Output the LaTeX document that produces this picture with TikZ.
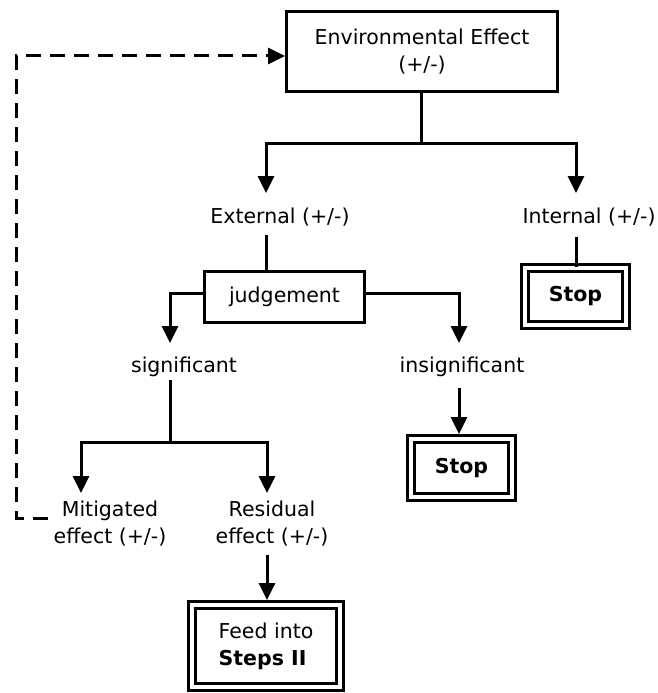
\documentclass[tikz,border=0pt]{standalone}
\usepackage{fontspec}
\setmainfont{DejaVu Sans}
\usetikzlibrary{arrows.meta}
\begin{document}
\begin{tikzpicture}[x=1pt,y=-1pt,
  every node/.style={font=\fontsize{20.5}{27}\selectfont, inner sep=0pt},
  ln/.style={line width=3pt},
  arr/.style={ln,-{Triangle[length=17pt,width=16pt]}},
  dsh/.style={line width=3pt,dash pattern=on 15pt off 9pt},
  box/.style={draw,line width=3pt,align=center},
  dbox/.style={draw,line width=3pt,double,double distance=4pt,align=center},
  lbl/.style={align=center}]
\useasboundingbox (0,0) rectangle (658,693);
% nodes
\node[box,minimum width=271pt,minimum height=80pt] (env) at (422,51.5) {Environmental Effect\\(+/-)};
\node[lbl] (ext) at (280,217) {External (+/-)};
\node[lbl] (int) at (589,217) {Internal (+/-)};
\node[box,minimum width=160pt,minimum height=51pt] (jud) at (284.5,297) {judgement};
\node[dbox,minimum width=101pt,minimum height=57pt] (stop1) at (575.5,296.5) {\textbf{Stop}};
\node[lbl] (sig) at (184,367) {significant};
\node[lbl] (insig) at (462,367) {insignificant};
\node[dbox,minimum width=101pt,minimum height=58pt] (stop2) at (461.5,468) {\textbf{Stop}};
\node[lbl] (mit) at (110,524) {Mitigated\\effect (+/-)};
\node[lbl] (res) at (272,524) {Residual\\effect (+/-)};
\node[dbox,align=left,minimum width=148pt,minimum height=82pt] (feed) at (266,646) {Feed into\\\textbf{Steps II}};
% coordinates
\coordinate (j1) at (421,143);
\coordinate (tExt) at (266,193);
\coordinate (tInt) at (576,193);
\coordinate (extb) at (266,235);
\coordinate (intb) at (576,237);
\coordinate (jl) at (203,293);
\coordinate (jr) at (366,293);
\coordinate (tSig) at (170,343);
\coordinate (tIns) at (459,343);
\coordinate (sigb) at (170,380);
\coordinate (j2) at (170,442);
\coordinate (tMit) at (81,493);
\coordinate (tRes) at (267,493);
\coordinate (insb) at (459,388);
\coordinate (tStop2) at (459,434);
\coordinate (resb) at (267,555);
\coordinate (tFeed) at (267,600);
\coordinate (mitl) at (48,518);
\coordinate (envin) at (285,56);
% connectors
\draw[ln] (env.south -| j1) -- (j1);
\draw[arr] (j1) -| (tExt);
\draw[arr] (j1) -| (tInt);
\draw[ln] (extb) -- (extb |- jud.north);
\draw[ln] (intb) -- (intb |- stop1.north);
\draw[arr] (jl) -| (tSig);
\draw[arr] (jr) -| (tIns);
\draw[ln] (sigb) -- (j2);
\draw[arr] (j2) -| (tMit);
\draw[arr] (j2) -| (tRes);
\draw[arr] (insb) -- (tStop2);
\draw[arr] (resb) -- (tFeed);
\draw[dsh,-{Triangle[length=17pt,width=16pt]}] (mitl) -- (16,518) |- (envin);
\end{tikzpicture}
\end{document}
